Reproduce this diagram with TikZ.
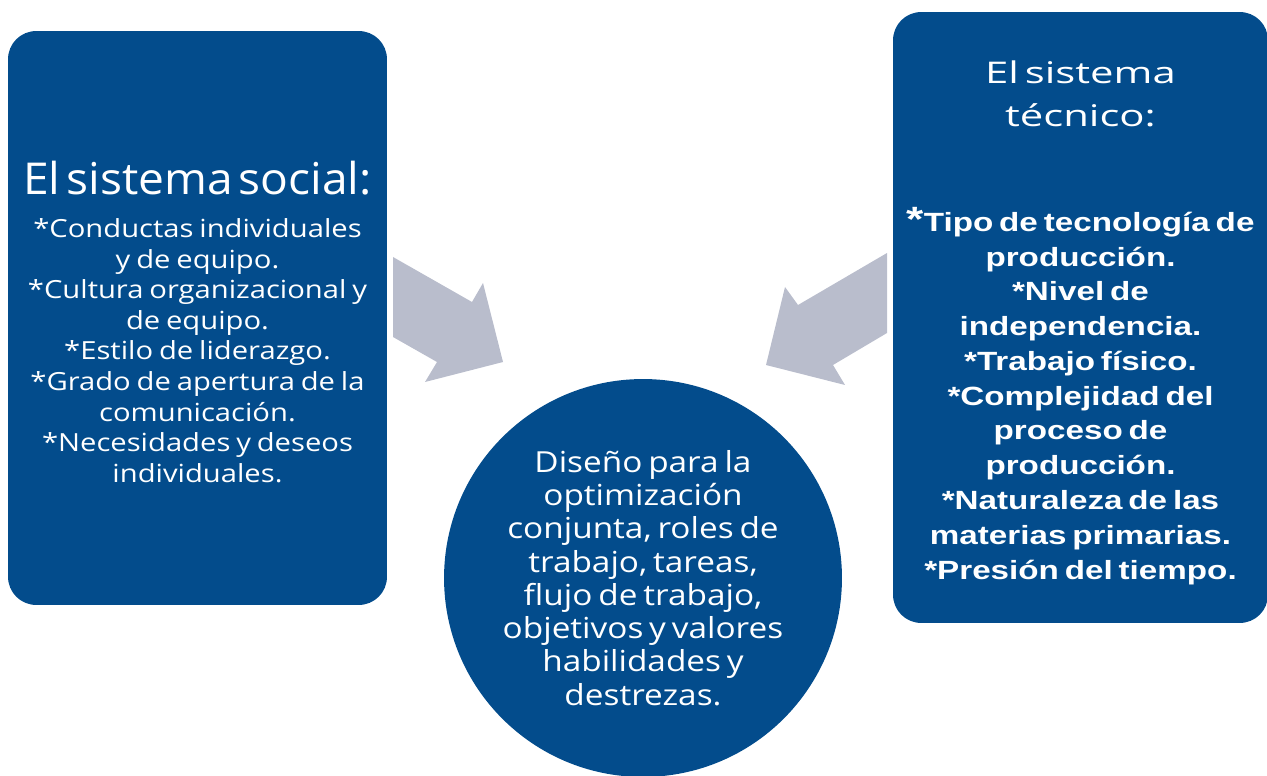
\documentclass[tikz,border=0pt]{standalone}
\usepackage{fontspec}
\setmainfont{Open Sans}
\newfontfamily\socialtitle{Open Sans}[FakeStretch=1.05, WordSpace=2.0]
\newfontfamily\socialfont{Open Sans}[FakeStretch=1.17, WordSpace=1.5]
\newfontfamily\tecnicotitle{Open Sans}[FakeStretch=1.4, WordSpace=1.5]
\newfontfamily\tecnicofont{Liberation Sans}[UprightFont=* Bold, FakeStretch=1.26]
\newfontfamily\disenofont{Open Sans}[FakeStretch=1.15, WordSpace=1.3]
\usepackage{tikz}
\definecolor{sysblue}{HTML}{034C8C}
\definecolor{arrowgray}{HTML}{B9BDCC}
\tikzset{
    sysbox/.style={fill=sysblue, rounded corners=16pt, inner sep=0pt},
    boxtext/.style={text=white, align=center, inner sep=0pt, text width=7.4cm},
    blockarrow/.style={fill=arrowgray, draw=none}
}

\begin{document}
\begin{tikzpicture}[x=0.02cm, y=-0.02cm]
    % Page frame
    \useasboundingbox (0,0) rectangle (1267,776);

    % Left box: social system
    \node[sysbox, minimum width=7.58cm, minimum height=11.48cm] (social) at (197.5,318) {};
    \node[boxtext] (socialtext) at ([yshift=-0.08cm]social.center) {%
        {\socialtitle\fontsize{25pt}{30pt}\selectfont El sistema social:\par}
        \vspace{7pt}
        {\socialfont\fontsize{14.2pt}{17.4pt}\selectfont
        *Conductas individuales\\{}y de equipo.\\{}*Cultura organizacional y\\{}de equipo.\\
        {}*Estilo de liderazgo.\\{}*Grado de apertura de la\\{}comunicación.\\
        {}*Necesidades y deseos\\{}individuales.\par}};

    % Right box: technical system
    \node[sysbox, minimum width=7.5cm, minimum height=12.22cm] (tecnico) at (1080.5,317.5) {};
    \node[boxtext] (tecnicotext) at ([yshift=-0.1cm]tecnico.center) {%
        {\tecnicotitle\fontsize{17pt}{24.5pt}\selectfont El sistema\\{}técnico:\par}
        \vspace{40pt}
        {\tecnicofont\fontsize{15pt}{19.8pt}\selectfont
        {\fontsize{20pt}{19.8pt}\selectfont *}Tipo de tecnología de\\{}producción.\\{}*Nivel de\\{}independencia.\\
        {}*Trabajo físico.\\{}*Complejidad del\\{}proceso de\\{}producción.\\
        {}*Naturaleza de las\\{}materias primarias.\\{}*Presión del tiempo.\par}};

    % Arrows towards the centre
    \path[blockarrow] (393,257) -- (472,302) -- (483,283) -- (503,362)
        -- (425,382) -- (437,362) -- (393,337) -- cycle;
    \path[blockarrow] (887,253) -- (798,305) -- (785,287) -- (766,365)
        -- (845,385) -- (833,365) -- (887,333) -- cycle;

    % Centre circle
    \node[circle, fill=sysblue, text=white, align=center, inner sep=0pt,
          text width=5.8cm, minimum size=7.96cm] (diseno) at (643,578) {%
        \disenofont\fontsize{16.5pt}{18.9pt}\selectfont
        Diseño para la\\ optimización\\ conjunta, roles de\\ trabajo, tareas,\\
        flujo de trabajo,\\ objetivos y valores\\ habilidades y\\ destrezas.\par};
\end{tikzpicture}
\end{document}
